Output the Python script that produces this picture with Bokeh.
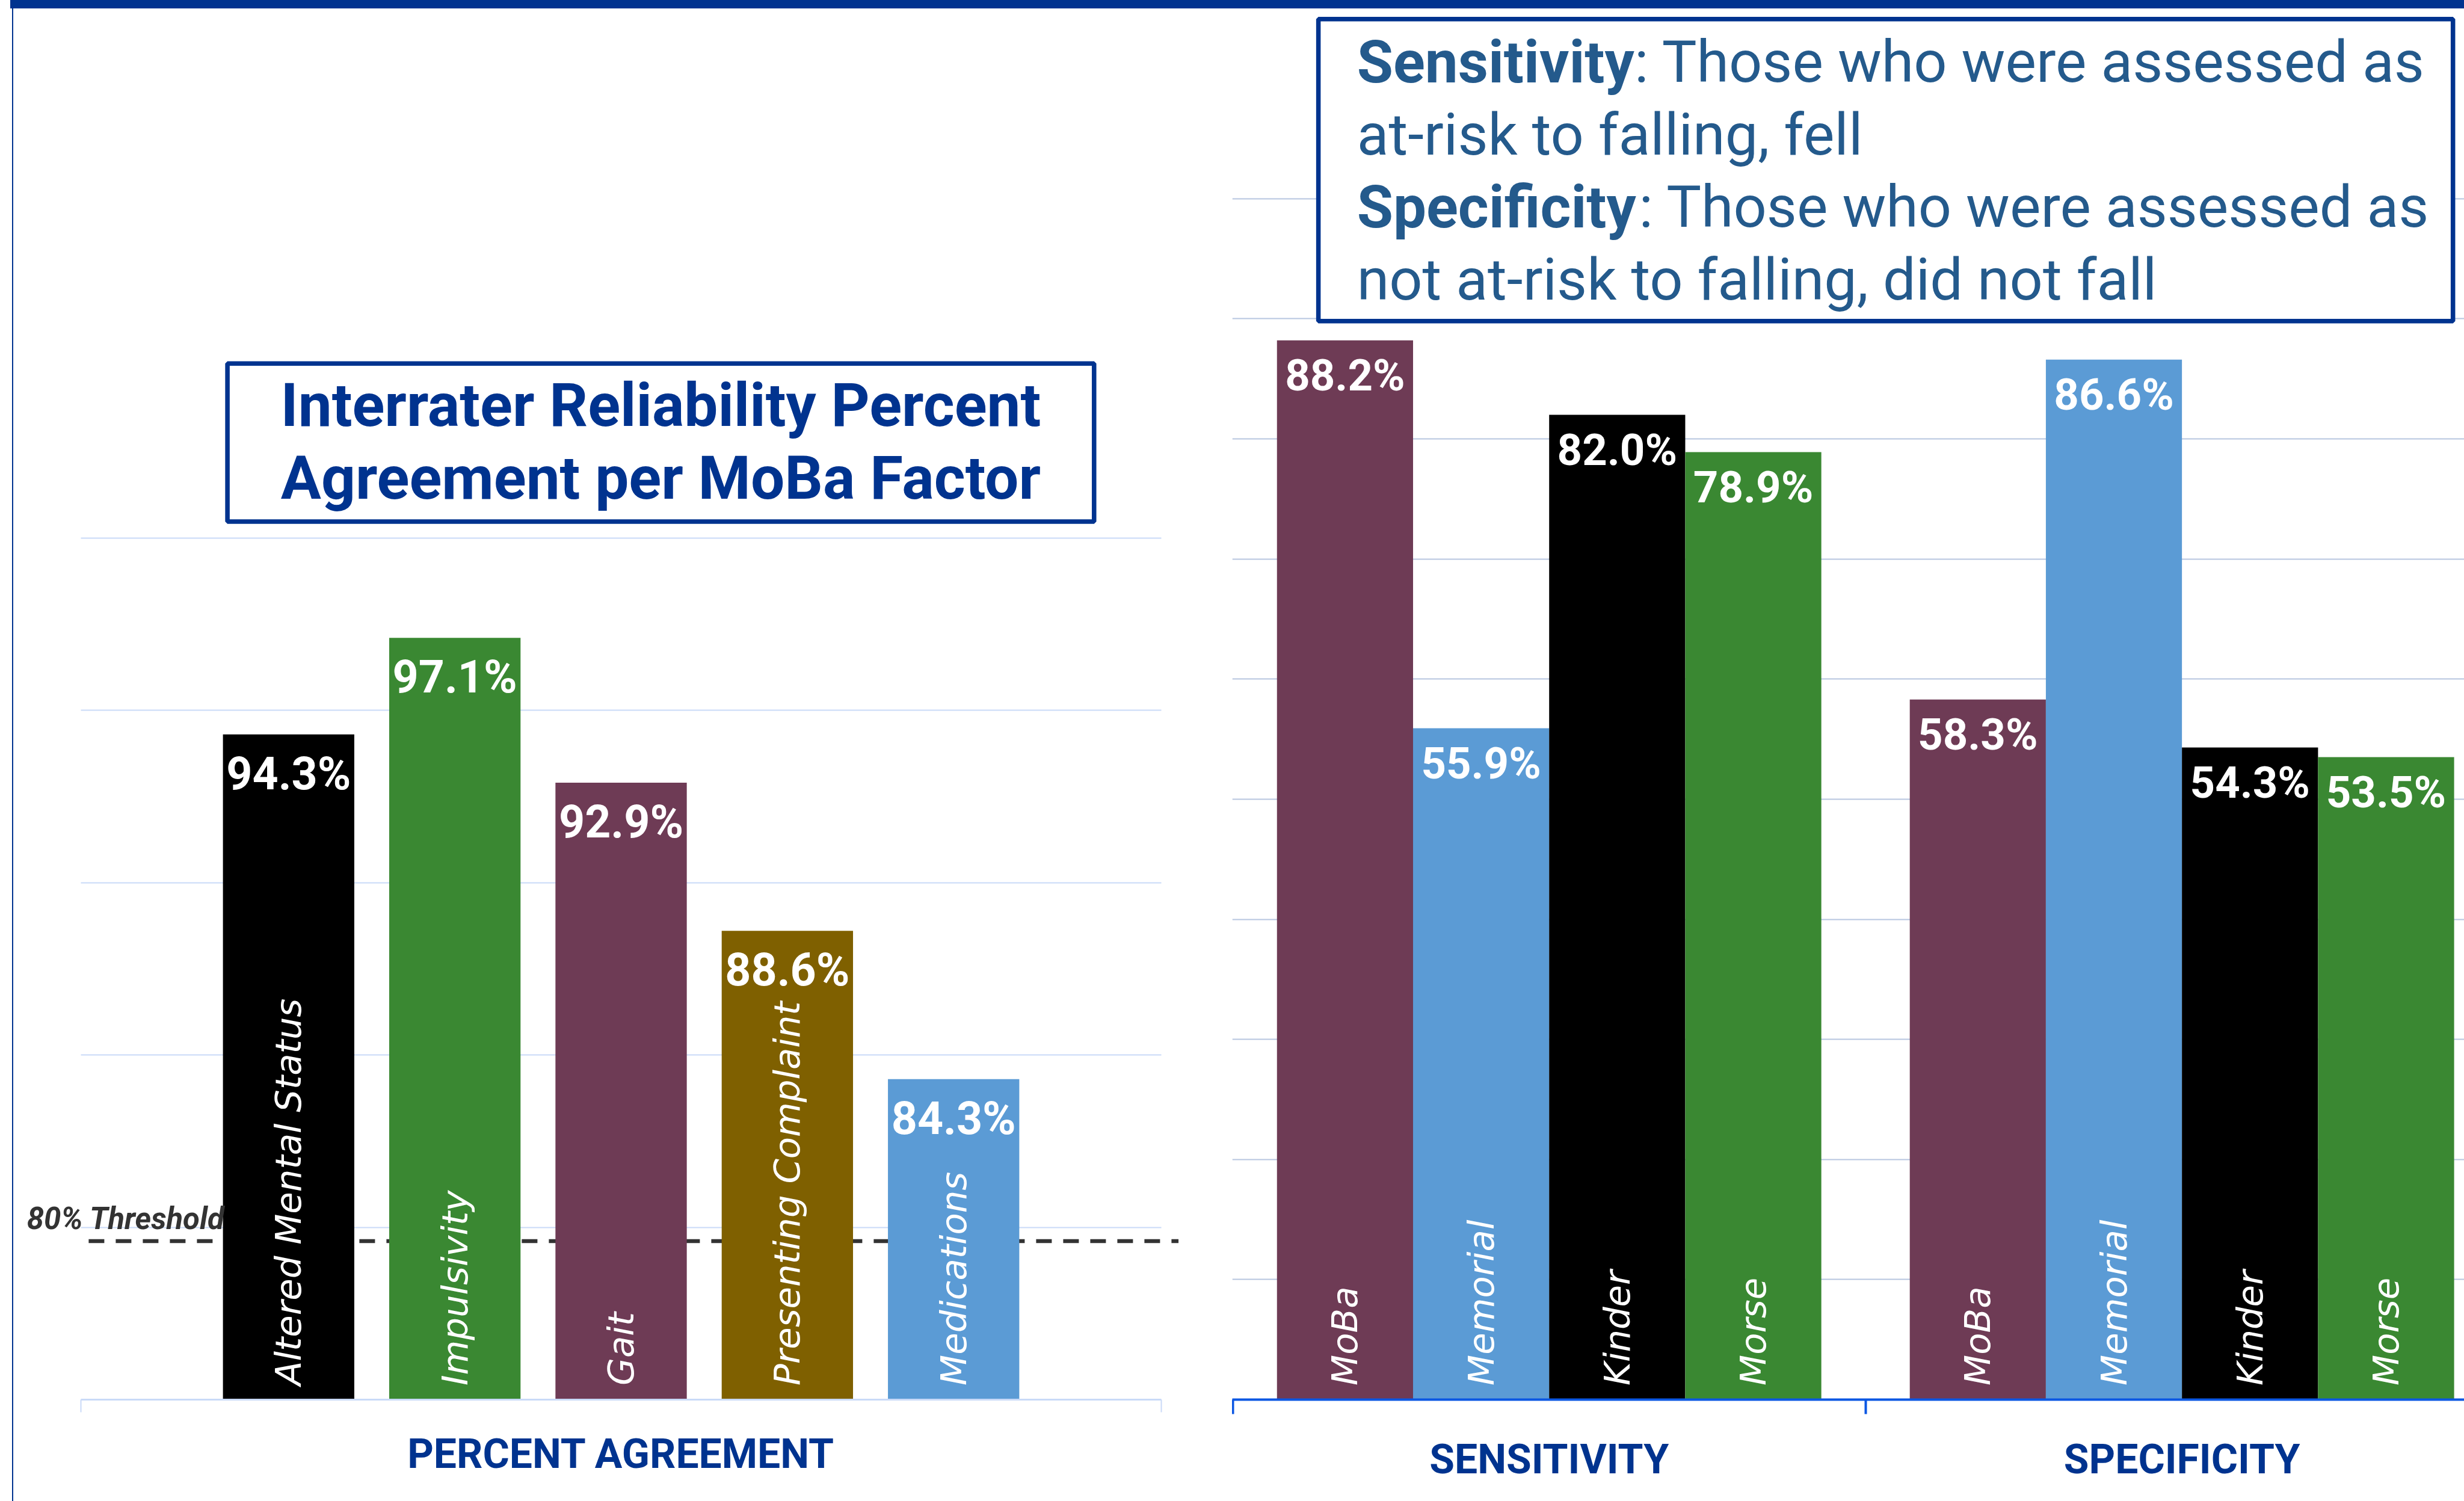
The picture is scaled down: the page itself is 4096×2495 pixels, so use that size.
import math
from bokeh.plotting import figure
from bokeh.models import Range1d, FixedTicker, BoxAnnotation, Label, Spacer, ColumnDataSource
from bokeh.layouts import row, column
from bokeh.embed import file_html
from bokeh.resources import INLINE
from bokeh.core.properties import value

# ---------------- data ----------------
factors = ["Altered Mental Status", "Impulsivity", "Gait", "Presenting Complaint", "Medications"]
agreement = [94.3, 97.1, 92.9, 88.6, 84.3]
factor_colors = ["#000000", "#3A8832", "#6E3B55", "#7F6000", "#5B9BD5"]
left_category = "PERCENT AGREEMENT"
left_title = ["Interrater Reliability Percent", "Agreement per MoBa Factor"]
left_y_min = 75
left_grid = [80, 85, 90, 95, 100]
threshold_label = "80% Threshold"
threshold_line = 79.6  # as drawn in the picture

tools = ["MoBa", "Memorial", "Kinder", "Morse"]
tool_colors = ["#6E3B55", "#5B9BD5", "#000000", "#3A8832"]
measures = ["SENSITIVITY", "SPECIFICITY"]
sensitivity = [88.2, 55.9, 82.0, 78.9]
specificity = [58.3, 86.6, 54.3, 53.5]
right_grid = [10, 20, 30, 40, 50, 60, 70, 80, 90, 100]
legend_lines = [
    ("Sensitivity", ": Those who were assessed as"),
    ("", "at-risk to falling, fell"),
    ("Specificity", ": Those who were assessed as"),
    ("", "not at-risk to falling, did not fall"),
]

# ---------------- layout constants ----------------
S = 4096 / 4350
def px(v):
    return v * S
def fs(v):
    return f"{v * S:.1f}px"
SH = 0.36  # baseline correction (fraction of font size)

NAVY = "#00338F"
TEXT_BLUE = "#245A8C"
TOP = 14
H = 2495 - TOP
XL0, WL = 22, 2026
XR0, WR = 2048, 2048
AXIS_Y = round(2470 * S)
FRAME_H = AXIS_Y - TOP
MBB = H - FRAME_H

# ---------------- left chart ----------------
L_C0, L_U, L_PPU = 509.0, 293.5, 60.85
def lx(p):
    return (p - L_C0) / L_U
def ly(p):
    return left_y_min + (2470 - p) / L_PPU

n = len(factors)
left_x = list(range(n))
lb = (-1.25, n - 1 + 1.25)
lc = (n - 1) // 2

pl = figure(width=WL, height=H, output_backend="svg", toolbar_location=None,
            x_range=Range1d(lx(XL0 / S), lx((XL0 + WL) / S)),
            y_range=Range1d(left_y_min, left_y_min + FRAME_H / (L_PPU * S)),
            y_axis_location=None,
            min_border_left=0, min_border_right=0, min_border_top=0, min_border_bottom=MBB)
pl.outline_line_color = None
pl.xgrid.visible = False
pl.ygrid.ticker = FixedTicker(ticks=left_grid)
pl.ygrid.grid_line_color = "#C9DAF8"
pl.ygrid.grid_line_width = 2
pl.ygrid.cross_bounds = lb

ax = pl.xaxis[0]
ax.ticker = FixedTicker(ticks=[lc], minor_ticks=list(lb))
ax.bounds = lb
ax.major_label_overrides = {lc: left_category}
ax.major_tick_line_color = None
ax.major_tick_out = 0
ax.major_tick_in = 0
ax.minor_tick_in = 0
ax.minor_tick_out = round(px(22))
ax.minor_tick_line_color = "#C9DAF8"
ax.minor_tick_line_width = 2
ax.axis_line_color = "#C9DAF8"
ax.axis_line_width = 3
ax.major_label_text_font = "Roboto"
ax.major_label_text_font_style = "bold"
ax.major_label_text_font_size = fs(72)
ax.major_label_text_color = NAVY
ax.major_label_standoff = 29

pl.segment(x0=[lx(156)], x1=[lx(2080)], y0=[threshold_line], y1=[threshold_line],
           line_color="#333333", line_width=px(7), line_dash="26 19")

lsrc = ColumnDataSource(dict(x=left_x, top=agreement, color=factor_colors, name=factors,
                             lab=[f"{v:.1f}%" for v in agreement],
                             base=[left_y_min] * n))
pl.vbar(x="x", top="top", bottom=left_y_min, width=0.79, fill_color="color",
        line_color=None, source=lsrc)
pl.text(x="x", y="top", text="lab", source=lsrc, text_align="center",
        text_baseline="alphabetic", y_offset=px(98 - SH * 80), text_font=value("Roboto"),
        text_font_style="bold", text_font_size=fs(80), text_color="white")
pl.text(x="x", y="base", text="name", source=lsrc, angle=math.pi / 2,
        text_align="left", text_baseline="middle", y_offset=-px(25),
        text_font=value("DejaVu Sans"), text_font_style="italic",
        text_font_size=fs(63), text_color="white")

pl.add_layout(Label(x=lx(47), y=ly(2170 - SH * 54), text=threshold_label, text_font="Roboto",
                    text_font_style="bold italic", text_font_size=fs(54),
                    text_color="#333333", text_baseline="alphabetic", text_align="left"))
pl.add_layout(BoxAnnotation(left=lx(401), right=lx(1931), top=ly(641), bottom=ly(920),
                            fill_color="white", fill_alpha=1, line_color=NAVY,
                            line_alpha=1, line_width=px(8)))
for i, t in enumerate(left_title):
    pl.add_layout(Label(x=lx(1166), y=ly(753 + 128 * i - SH * 106), text=t,
                        text_font="Roboto", text_font_style="bold",
                        text_font_size=fs(106), text_color=NAVY,
                        text_align="center", text_baseline="alphabetic"))

# ---------------- right chart ----------------
R_C0, R_U, R_PPU = 2374.0, 240.25, 21.2
def rx(p):
    return (p - R_C0) / R_U
def ry(p):
    return (2470 - p) / R_PPU

gap = 0.65
m = len(tools)
rx_pos, rtop, rcol, rname = [], [], [], []
for g, vals in enumerate([sensitivity, specificity]):
    for k in range(m):
        rx_pos.append(g * (m + gap) + k)
        rtop.append(vals[k])
        rcol.append(tool_colors[k])
        rname.append(tools[k])
centers = [g * (m + gap) + (m - 1) / 2 for g in range(len(measures))]
bounds = [g * (m + gap) - 0.5 - gap / 2 for g in range(len(measures) + 1)]

pr = figure(width=WR, height=H, output_backend="svg", toolbar_location=None,
            x_range=Range1d(rx(XR0 / S), rx((XR0 + WR) / S)),
            y_range=Range1d(0, FRAME_H / (R_PPU * S)),
            y_axis_location=None,
            min_border_left=0, min_border_right=0, min_border_top=0, min_border_bottom=MBB)
pr.outline_line_color = None
pr.xgrid.visible = False
pr.ygrid.ticker = FixedTicker(ticks=right_grid)
pr.ygrid.grid_line_color = "#B7C6E0"
pr.ygrid.grid_line_width = 2

bx = pr.xaxis[0]
bx.ticker = FixedTicker(ticks=centers, minor_ticks=bounds)
bx.major_label_overrides = {c: measures[i] for i, c in enumerate(centers)}
bx.major_tick_line_color = None
bx.major_tick_out = 0
bx.major_tick_in = 0
bx.minor_tick_in = 0
bx.minor_tick_out = round(px(26))
bx.minor_tick_line_color = "#0B57E3"
bx.minor_tick_line_width = 4
bx.axis_line_color = "#0B57E3"
bx.axis_line_width = 4
bx.major_label_text_font = "Roboto"
bx.major_label_text_font_style = "bold"
bx.major_label_text_font_size = fs(72)
bx.major_label_text_color = NAVY
bx.major_label_standoff = 35

rsrc = ColumnDataSource(dict(x=rx_pos, top=rtop, color=rcol, name=rname,
                             lab=[f"{v:.1f}%" for v in rtop], base=[0] * len(rtop)))
pr.vbar(x="x", top="top", bottom=0, width=1.0, fill_color="color", line_color=None,
        source=rsrc)
pr.text(x="x", y="top", text="lab", source=rsrc, text_align="center",
        text_baseline="alphabetic", y_offset=px(90 - SH * 77), text_font=value("Roboto"),
        text_font_style="bold", text_font_size=fs(77), text_color="white")
pr.text(x="x", y="base", text="name", source=rsrc, angle=math.pi / 2,
        text_align="left", text_baseline="middle", y_offset=-px(25),
        text_font=value("DejaVu Sans"), text_font_style="italic",
        text_font_size=fs(63), text_color="white")

pr.add_layout(BoxAnnotation(left=rx(2327), right=rx(4330), top=ry(33), bottom=ry(566),
                            fill_color="white", fill_alpha=1, line_color=NAVY,
                            line_alpha=1, line_width=px(8)))
colon_x = [2885, None, 2893, None]
for i, (b, r) in enumerate(legend_lines):
    yb = ry(146 + 128 * i - SH * 103)
    if b:
        pr.add_layout(Label(x=rx(2395), y=yb, text=b, text_font="Roboto",
                            text_font_style="bold", text_font_size=fs(104),
                            text_color=TEXT_BLUE, text_baseline="alphabetic"))
        pr.add_layout(Label(x=rx(colon_x[i]), y=yb, text=r, text_font="Roboto",
                            text_font_size=fs(103), text_color=TEXT_BLUE,
                            text_baseline="alphabetic"))
    else:
        pr.add_layout(Label(x=rx(2395), y=yb, text=r, text_font="Roboto",
                            text_font_size=fs(103), text_color=TEXT_BLUE,
                            text_baseline="alphabetic"))

# ---------------- page ----------------
top_strip = row(Spacer(width=17, height=TOP),
                Spacer(width=4096 - 17, height=TOP, styles={"background-color": NAVY}))
main = row(Spacer(width=20, height=H),
           Spacer(width=2, height=H, styles={"background-color": NAVY}),
           pl, pr)
layout = column(top_strip, main)

open("out.html", "w").write(file_html(layout, INLINE))
